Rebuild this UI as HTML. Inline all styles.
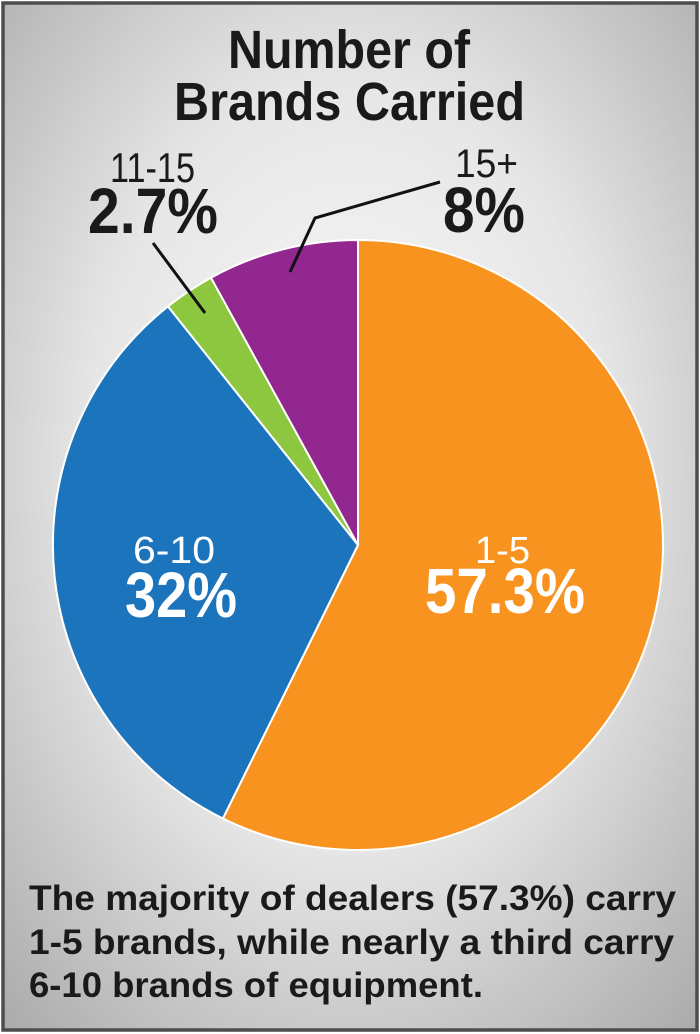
<!DOCTYPE html>
<html><head><meta charset="utf-8"><style>html,body{margin:0;padding:0;background:#fff}svg{display:block}</style></head>
<body>
<svg width="700" height="1034" viewBox="0 0 700 1034" xmlns="http://www.w3.org/2000/svg">
<defs>
<radialGradient id="bg" cx="0.5" cy="0.45" r="0.75">
<stop offset="0" stop-color="#fbfbfb"/>
<stop offset="0.5" stop-color="#e6e6e6"/>
<stop offset="1" stop-color="#a9a9a9"/>
</radialGradient>
</defs>
<rect x="3" y="3" width="694" height="1027" fill="url(#bg)" stroke="#4d4d4d" stroke-width="3.5"/>
<g font-family="Liberation Sans, sans-serif" fill="#1a1a1a">
<text x="228" y="68" font-size="54" font-weight="bold" textLength="242" lengthAdjust="spacingAndGlyphs">Number of</text>
<text x="174" y="120" font-size="54" font-weight="bold" textLength="351" lengthAdjust="spacingAndGlyphs">Brands Carried</text>
</g>
<g stroke="#fff" stroke-width="2">
<path d="M358,545 L358,240 A305,305 0 1 1 222.9,818.5 Z" fill="#f7931e"/>
<path d="M358,545 L222.9,818.5 A305,305 0 0 1 168,306.4 Z" fill="#1c75bc"/>
<path d="M358,545 L168,306.4 A305,305 0 0 1 211,277.7 Z" fill="#8dc63f"/>
<path d="M358,545 L211,277.7 A305,305 0 0 1 358,240 Z" fill="#92278f"/>
</g>
<g stroke="#111" stroke-width="3" fill="none">
<polyline points="440,182 315,218 290,272"/>
<line x1="153" y1="243" x2="205" y2="313"/>
</g>
<g font-family="Liberation Sans, sans-serif" fill="#1a1a1a">
<text x="110" y="182" font-size="42" textLength="85" lengthAdjust="spacingAndGlyphs">11-15</text>
<text x="88" y="233" font-size="64" font-weight="bold" textLength="130" lengthAdjust="spacingAndGlyphs">2.7%</text>
<text x="455" y="177" font-size="40" textLength="63" lengthAdjust="spacingAndGlyphs">15+</text>
<text x="443" y="232" font-size="64" font-weight="bold" textLength="82" lengthAdjust="spacingAndGlyphs">8%</text>
</g>
<g font-family="Liberation Sans, sans-serif" fill="#fff">
<text x="133" y="563" font-size="38" textLength="82" lengthAdjust="spacingAndGlyphs">6-10</text>
<text x="125" y="617" font-size="64" font-weight="bold" textLength="112" lengthAdjust="spacingAndGlyphs">32%</text>
<text x="475" y="563" font-size="38" textLength="55" lengthAdjust="spacingAndGlyphs">1-5</text>
<text x="425" y="613" font-size="64" font-weight="bold" textLength="160" lengthAdjust="spacingAndGlyphs">57.3%</text>
</g>
<g font-family="Liberation Sans, sans-serif" fill="#1a1a1a" font-weight="bold" font-size="35">
<text x="29" y="910" textLength="647" lengthAdjust="spacingAndGlyphs">The majority of dealers (57.3%) carry</text>
<text x="29" y="954" textLength="645" lengthAdjust="spacingAndGlyphs">1-5 brands, while nearly a third carry</text>
<text x="29" y="997" textLength="454" lengthAdjust="spacingAndGlyphs">6-10 brands of equipment.</text>
</g>
</svg>
</body></html>
